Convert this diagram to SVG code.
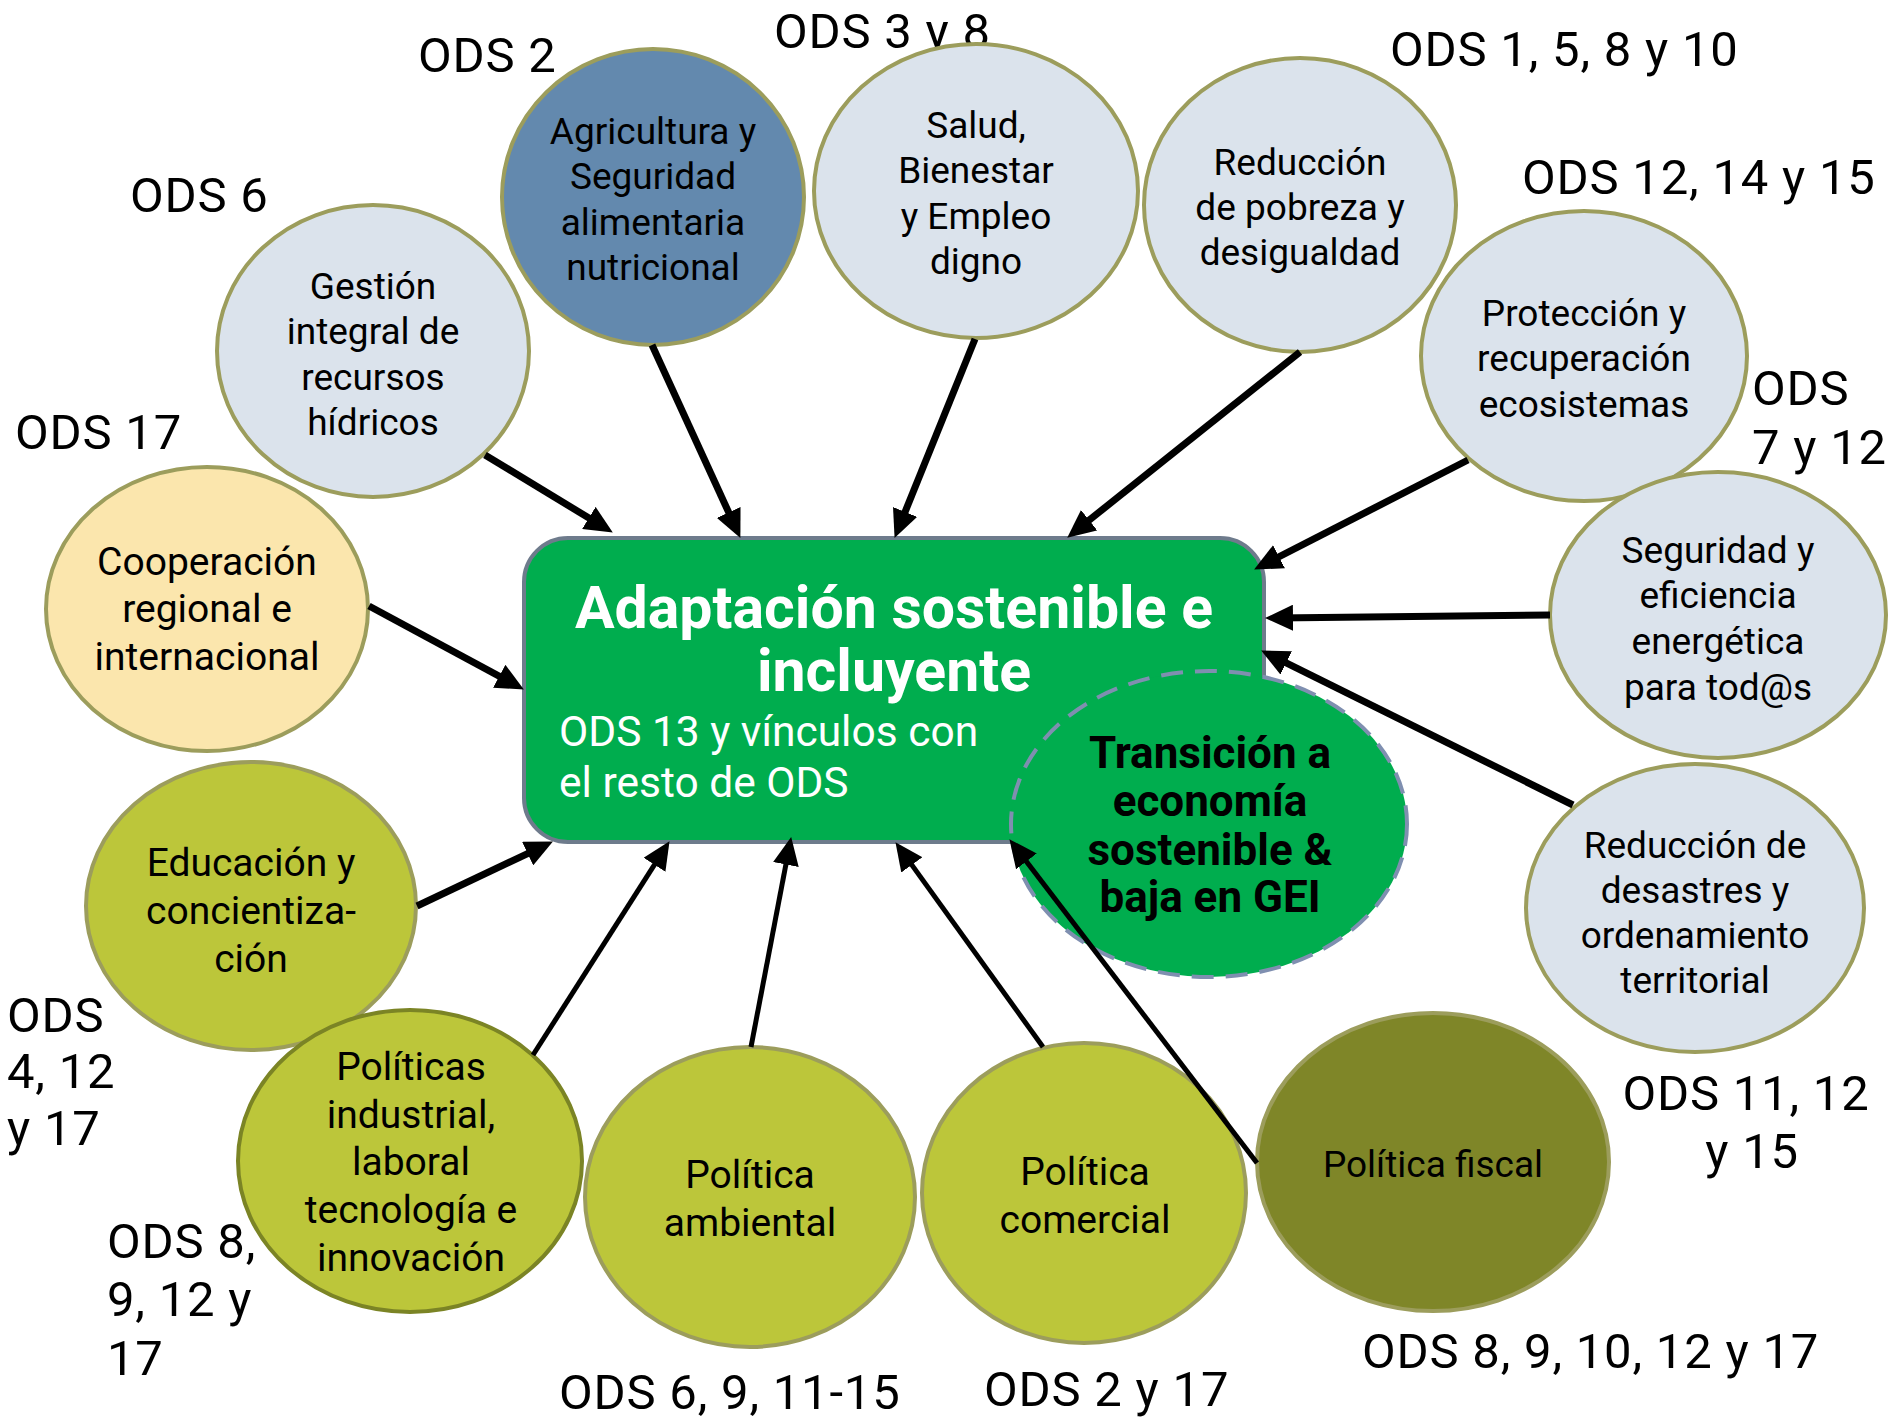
<svg xmlns="http://www.w3.org/2000/svg" width="1889" height="1422" viewBox="0 0 1889 1422">
<style>
.bg{fill:#ffffff}
.e{stroke:#9c9d5c;stroke-width:4}
.lb{fill:#dbe3ec}
.bl{fill:#6389ae}
.yl{fill:#fbe6ad}
.gy{fill:#bcc63a}
.dk{fill:#7f8628}
.t{font-family:Roboto,"Liberation Sans",sans-serif;fill:#000;text-anchor:middle}
.n1{font-size:37px}
.n2{font-size:39px}
.ods{font-family:Roboto,"Liberation Sans",sans-serif;font-size:49px;letter-spacing:0.8px;fill:#000}
.c{stroke:#000;fill:none;marker-end:url(#ah)}
.w7{stroke-width:7}
.w5{stroke-width:5}
</style>
<defs>
<marker id="ah" markerUnits="userSpaceOnUse" markerWidth="28" markerHeight="26" refX="17" refY="13" orient="auto">
<path d="M0,0 L28,13 L0,26 z" fill="#000"/>
</marker>
</defs>
<rect class="bg" x="0" y="0" width="1889" height="1422"/>

<g id="labels">
<text class="ods" x="418" y="72">ODS 2</text>
<text class="ods" x="774" y="48">ODS 3 y 8</text>
<text class="ods" x="130" y="212">ODS 6</text>
<text class="ods" x="15" y="449">ODS 17</text>
<text class="ods" x="1390" y="66">ODS 1, 5, 8 y 10</text>
<text class="ods" x="1522" y="194">ODS 12, 14 y 15</text>
<text class="ods" x="1752" y="405">ODS</text>
<text class="ods" x="1752" y="464">7 y 12</text>
<text class="ods" x="1746" y="1110" text-anchor="middle">ODS 11, 12</text>
<text class="ods" x="1752" y="1168" text-anchor="middle">y 15</text>
<text class="ods" x="1362" y="1368">ODS 8, 9, 10, 12 y 17</text>
<text class="ods" x="984" y="1406">ODS 2 y 17</text>
<text class="ods" x="559" y="1409">ODS 6, 9, 11-15</text>
<text class="ods" x="107" y="1258">ODS 8,</text>
<text class="ods" x="107" y="1316">9, 12 y</text>
<text class="ods" x="107" y="1375">17</text>
<text class="ods" x="7" y="1032">ODS</text>
<text class="ods" x="7" y="1088">4, 12</text>
<text class="ods" x="7" y="1145">y 17</text>
</g>

<g id="center">
<rect x="524" y="538" width="740" height="304" rx="44" ry="44" fill="#00ad4e" stroke="#6e7b8c" stroke-width="4"/>
<text x="894" y="628" text-anchor="middle" font-family="Roboto,'Liberation Sans',sans-serif" font-weight="bold" font-size="59" fill="#fff">Adaptación sostenible e</text>
<text x="894" y="691" text-anchor="middle" font-family="Roboto,'Liberation Sans',sans-serif" font-weight="bold" font-size="59" fill="#fff">incluyente</text>
<text x="559" y="746" font-family="Roboto,'Liberation Sans',sans-serif" font-size="42.5" fill="#fff">ODS 13 y vínculos con</text>
<text x="559" y="797" font-family="Roboto,'Liberation Sans',sans-serif" font-size="42.5" fill="#fff">el resto de ODS</text>
</g>

<g id="transicion">
<ellipse cx="1209" cy="824" rx="198" ry="153" fill="#00ad4e" stroke="#7f8fb0" stroke-width="4" stroke-dasharray="22,12"/>
<g font-family="Roboto,'Liberation Sans',sans-serif" font-weight="bold" font-size="44" fill="#000" text-anchor="middle">
<text x="1210" y="768">Transición a</text>
<text x="1210" y="816">economía</text>
<text x="1210" y="865">sostenible &amp;</text>
<text x="1210" y="912">baja en GEI</text>
</g>
</g>

<g id="gestion">
<ellipse class="e lb" cx="373" cy="351" rx="156" ry="146"/>
<text class="t n1" x="373" y="299">Gestión</text>
<text class="t n1" x="373" y="344">integral de</text>
<text class="t n1" x="373" y="390">recursos</text>
<text class="t n1" x="373" y="435">hídricos</text>
</g>

<g id="agricultura">
<ellipse class="e bl" cx="653" cy="197" rx="151" ry="148"/>
<text class="t n1" x="653" y="144">Agricultura y</text>
<text class="t n1" x="653" y="189">Seguridad</text>
<text class="t n1" x="653" y="235">alimentaria</text>
<text class="t n1" x="653" y="280">nutricional</text>
</g>

<g id="salud">
<ellipse class="e lb" cx="976" cy="191" rx="162" ry="147"/>
<text class="t n1" x="976" y="138">Salud,</text>
<text class="t n1" x="976" y="183">Bienestar</text>
<text class="t n1" x="976" y="229">y Empleo</text>
<text class="t n1" x="976" y="274">digno</text>
</g>

<g id="pobreza">
<ellipse class="e lb" cx="1300" cy="205" rx="156" ry="147"/>
<text class="t n1" x="1300" y="175">Reducción</text>
<text class="t n1" x="1300" y="220">de pobreza y</text>
<text class="t n1" x="1300" y="265">desigualdad</text>
</g>

<g id="proteccion">
<ellipse class="e lb" cx="1584" cy="356" rx="163" ry="145"/>
<text class="t n1" x="1584" y="326">Protección y</text>
<text class="t n1" x="1584" y="371">recuperación</text>
<text class="t n1" x="1584" y="417">ecosistemas</text>
</g>

<g id="seguridad">
<ellipse class="e lb" cx="1718" cy="615" rx="168" ry="143"/>
<text class="t n1" x="1718" y="563">Seguridad y</text>
<text class="t n1" x="1718" y="608">eficiencia</text>
<text class="t n1" x="1718" y="654">energética</text>
<text class="t n1" x="1718" y="700">para tod@s</text>
</g>

<g id="desastres">
<ellipse class="e lb" cx="1695" cy="908" rx="169" ry="144"/>
<text class="t n1" x="1695" y="858">Reducción de</text>
<text class="t n1" x="1695" y="903">desastres y</text>
<text class="t n1" x="1695" y="948">ordenamiento</text>
<text class="t n1" x="1695" y="993">territorial</text>
</g>

<g id="cooperacion">
<ellipse class="e yl" cx="207" cy="609" rx="161" ry="142"/>
<text class="t n2" x="207" y="575">Cooperación</text>
<text class="t n2" x="207" y="622">regional e</text>
<text class="t n2" x="207" y="670">internacional</text>
</g>

<g id="educacion">
<ellipse class="e gy" cx="251" cy="906" rx="165" ry="144"/>
<text class="t n2" x="251" y="876">Educación y</text>
<text class="t n2" x="251" y="924">concientiza-</text>
<text class="t n2" x="251" y="972">ción</text>
</g>

<g id="politicas">
<ellipse class="gy" cx="410" cy="1161" rx="172" ry="151" stroke="#7b8425" stroke-width="4"/>
<text class="t n2" x="411" y="1080">Políticas</text>
<text class="t n2" x="411" y="1128">industrial,</text>
<text class="t n2" x="411" y="1175">laboral</text>
<text class="t n2" x="411" y="1223">tecnología e</text>
<text class="t n2" x="411" y="1271">innovación</text>
</g>

<g id="ambiental">
<ellipse class="e gy" cx="750" cy="1197" rx="165" ry="150"/>
<text class="t n2" x="750" y="1188">Política</text>
<text class="t n2" x="750" y="1236">ambiental</text>
</g>

<g id="comercial">
<ellipse class="e gy" cx="1084" cy="1193" rx="162" ry="150"/>
<text class="t n2" x="1085" y="1185">Política</text>
<text class="t n2" x="1085" y="1233">comercial</text>
</g>

<g id="fiscal">
<ellipse class="e dk" cx="1433" cy="1162" rx="176" ry="149"/>
<text class="t n1" x="1433" y="1177">Política fiscal</text>
</g>

<g id="connectors">
<line class="c w7" x1="485" y1="455" x2="603.4" y2="526.8"/>
<line class="c w7" x1="652" y1="345" x2="735.8" y2="527.9"/>
<line class="c w7" x1="975" y1="339" x2="898.7" y2="527.7"/>
<line class="c w7" x1="1300" y1="352" x2="1075.8" y2="530.8"/>
<line class="c w7" x1="1468" y1="460" x2="1263.9" y2="564.5"/>
<line class="c w7" x1="1550" y1="615" x2="1276" y2="617.9"/>
<line class="c w7" x1="1573" y1="805" x2="1271" y2="655.4"/>
<line class="c w7" x1="369" y1="606" x2="514.2" y2="684.3"/>
<line class="c w7" x1="417" y1="906" x2="543" y2="846.3"/>
<line class="c w5" x1="533" y1="1055" x2="663.6" y2="850.4"/>
<line class="c w5" x1="751" y1="1047" x2="789.1" y2="847.8"/>
<line class="c w5" x1="1043" y1="1047" x2="901.9" y2="851.1"/>
<line class="c w5" x1="1257" y1="1163" x2="1016.1" y2="847.9"/>
</g>
</svg>
